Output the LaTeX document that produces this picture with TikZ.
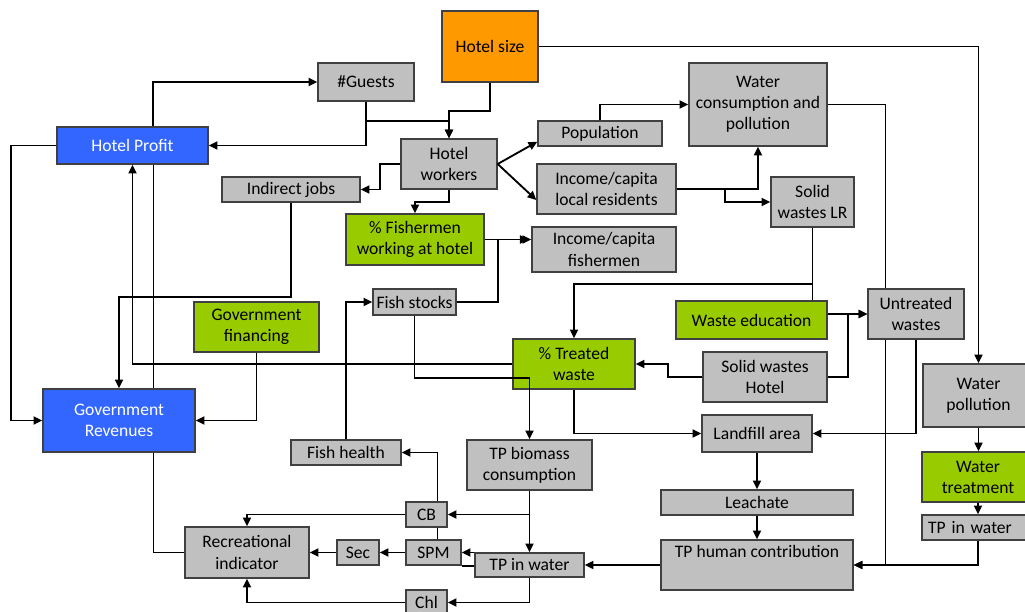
\documentclass[tikz,border=0pt]{standalone}
\usepackage{fontspec}
\setmainfont{Carlito}
\usetikzlibrary{positioning,arrows.meta,backgrounds}
\definecolor{boxgray}{RGB}{192,192,192}
\definecolor{hotelorange}{RGB}{255,153,0}
\definecolor{govblue}{RGB}{51,102,255}
\definecolor{policygreen}{RGB}{153,204,0}

\begin{document}
\begin{tikzpicture}[x=0.02cm, y=-0.02cm,
  box/.style={draw=black!75, fill=boxgray, line width=0.8pt, inner sep=0pt, align=center, font=\fontsize{10}{12}\selectfont},
  gbox/.style={box, fill=policygreen},
  bbox/.style={box, fill=govblue, text=white},
  obox/.style={box, fill=hotelorange},
  >={Triangle[length=5pt, width=4.6pt]}, line width=1.05pt]
\useasboundingbox (0,0) rectangle (1025,612);
% top row
\node[obox, minimum width=1.92cm, minimum height=1.42cm] (hsize) at (490,46.5) {Hotel size};
\node[box, minimum width=1.92cm, minimum height=0.76cm] (guests) at (366,82) {\#Guests};
\node[bbox, minimum width=3.02cm, minimum height=0.74cm] (hprofit) at (132.5,145.5) {Hotel Profit};
\node[box, minimum width=1.92cm, minimum height=1cm] (hworkers) at (449,164) {Hotel\\workers};
\node[box, minimum width=2.76cm, minimum height=0.5cm] (indjobs) at (291,189.5) {Indirect jobs};
\node[box, minimum width=2.48cm, minimum height=0.5cm] (popul) at (600,133.5) {Population};
\node[box, minimum width=2.76cm, minimum height=1.66cm] (watercons) at (758,104.5) {Water\\consumption and\\pollution};
\node[box, minimum width=2.78cm, minimum height=1cm] (incloc) at (606.5,189) {Income/capita\\local residents};
\node[box, minimum width=1.66cm, minimum height=1cm] (swlr) at (812.5,202) {Solid\\wastes LR};
% middle
\node[gbox, minimum width=2.76cm, minimum height=1.02cm] (fisherpct) at (415,239.5) {\% Fishermen\\working at hotel};
\node[box, minimum width=2.88cm, minimum height=0.9cm] (incfish) at (604,249.5) {Income/capita\\fishermen};
\node[box, minimum width=1.66cm, minimum height=0.52cm] (fstocks) at (414.5,302) {Fish stocks};
\node[gbox, minimum width=2.5cm, minimum height=1cm] (govfin) at (256.5,327) {Government\\financing};
\node[bbox, minimum width=3.04cm, minimum height=1.26cm] (govrev) at (119,420.5) {Government\\Revenues};
\node[gbox, minimum width=3.02cm, minimum height=0.76cm] (wedu) at (751.5,320) {Waste education};
\node[box, minimum width=1.92cm, minimum height=1cm] (untreated) at (916,314) {Untreated\\wastes};
\node[gbox, minimum width=2.44cm, minimum height=1cm] (treated) at (574,364) {\% Treated\\waste};
\node[box, minimum width=2.48cm, minimum height=1cm] (swhotel) at (765,377) {Solid wastes\\Hotel};
\node[box, minimum width=2.22cm, minimum height=1.26cm] (wpoll) at (978.5,395.5) {Water\\pollution};
% bottom
\node[box, minimum width=2.2cm, minimum height=0.74cm] (landfill) at (757,433.5) {Landfill area};
\node[box, minimum width=3.84cm, minimum height=0.5cm] (leach) at (757,502.5) {Leachate};
\node[box, minimum width=3.84cm, minimum height=1cm] (tphuman) at (757,565) {TP human contribution\\\strut};
\node[gbox, minimum width=2.24cm, minimum height=1cm] (wtreat) at (978,477) {Water\\treatment};
\node[box, minimum width=2.24cm, minimum height=0.5cm, text width=2cm, align=left] (tpwr) at (978,527.5) {TP in water};
\node[box, minimum width=2.5cm, minimum height=1cm] (tpbio) at (529.5,465) {TP biomass\\consumption};
\node[box, minimum width=2.18cm, minimum height=0.48cm] (tpw) at (529.5,565) {TP in water};
\node[box, minimum width=0.82cm, minimum height=0.5cm] (cb) at (426.5,514.5) {CB};
\node[box, minimum width=1.1cm, minimum height=0.5cm] (spm) at (433.5,552.5) {SPM};
\node[box, minimum width=0.82cm, minimum height=0.5cm] (chl) at (426.5,602.5) {Chl};
\node[box, minimum width=0.84cm, minimum height=0.5cm] (sec) at (358,552.5) {Sec};
\node[box, minimum width=2.48cm, minimum height=1.02cm] (recind) at (247,552.5) {Recreational\\indicator};
\node[box, minimum width=2.2cm, minimum height=0.5cm] (fhealth) at (346,452.5) {Fish health};
% lines running behind boxes
\begin{scope}[on background layer]
\draw (recind.west) -| ([shift={(20.5,0)}]hprofit.south);
\draw[->] (watercons.east) -- ++(58,0) |- (tphuman.east);
\end{scope}
% hotel part
\draw[->] (hsize.south) -- ++(0,28) -| (hworkers.north);
\draw[->] (guests.south) -- ++(0,19) -| (hworkers.north);
\draw[->] (guests.south) |- (hprofit.east);
\draw[->] ([shift={(20.5,0)}]hprofit.north) |- (guests.west);
\draw[->] (hprofit.west) -- ++(-45,0) |- (govrev.west);
\draw[->] (treated.west) -| (hprofit.south);
\draw[->] (indjobs.south) -- ++(0,94) -| (govrev.north);
\draw[->] (govfin.south) |- (govrev.east);
\draw[->] (hworkers.west) -- ++(-20,0) |- (indjobs.east);
\draw[->] (hworkers.south) -- ++(0,12) -| (fisherpct.north);
\draw[->] (hworkers.east) -- ([shift={(0,-5)}]popul.south west);
\draw[->] (hworkers.east) -- ([shift={(0,11)}]incloc.west);
\draw[->] (popul.north) |- (watercons.west);
\draw[->] (incloc.east) -| (watercons.south);
\draw[->] (incloc.east) -- ++(48,0) |- (swlr.west);
\draw[->] (hsize.east) -| (wpoll.north);
\draw[->] (wpoll.south) -- (wpoll.south |- wtreat.north);
\draw[->] (wtreat.south) -- (tpwr.north);
\draw[->] (tpwr.south) |- (tphuman.east);
% wastes
\draw[->] (swlr.south) -- ++(0,56) -| (treated.north);
\draw (wedu.north -| swlr.south) -- (swlr.south);
\draw[->] (untreated.west -| wedu.east) -- (untreated.west);
\draw[->] (swhotel.east) -- ++(20,0) |- (untreated.west);
\draw[->] (swhotel.west) -- ++(-34,0) |- (treated.east);
\draw[->] (treated.south) |- (landfill.west);
\draw[->] (untreated.south) |- (landfill.east);
\draw[->] (landfill.south) -- (leach.north);
\draw[->] (leach.south) -- (tphuman.north);
\draw[->] (tphuman.west) -- (tpw.east);
% fish and water quality
\draw[->] (fisherpct.east) -- (incfish.west |- fisherpct.east);
\draw[->, shorten >=1.5pt] (fstocks.east) -- ++(41,0) |- (incfish.west |- fisherpct.east);
\draw[->] (fhealth.north) |- (fstocks.west);
\draw[->] (fstocks.south) -- ++(0,62) -| (tpbio.north);
\draw[->] ([shift={(11,0)}]cb.north) |- (fhealth.east);
\draw[->] (tpbio.south) -- (tpw.north);
\draw[->] (tpbio.south) |- (cb.east);
\draw[->] (cb.west) -| (recind.north);
\draw ([shift={(11,0)}]cb.south) -- ([shift={(4,0)}]spm.north);
\draw[->] (spm.west) -- (sec.east);
\draw[->] (sec.west) -- (recind.east);
\draw[->] (tpw.west |- spm.east) -- (spm.east);
\draw (spm.south east) -- (tpw.west |- spm.south east);
\draw[->] (tpw.south) |- (chl.east);
\draw[->] (chl.west) -| (recind.south);
\end{tikzpicture}
\end{document}
